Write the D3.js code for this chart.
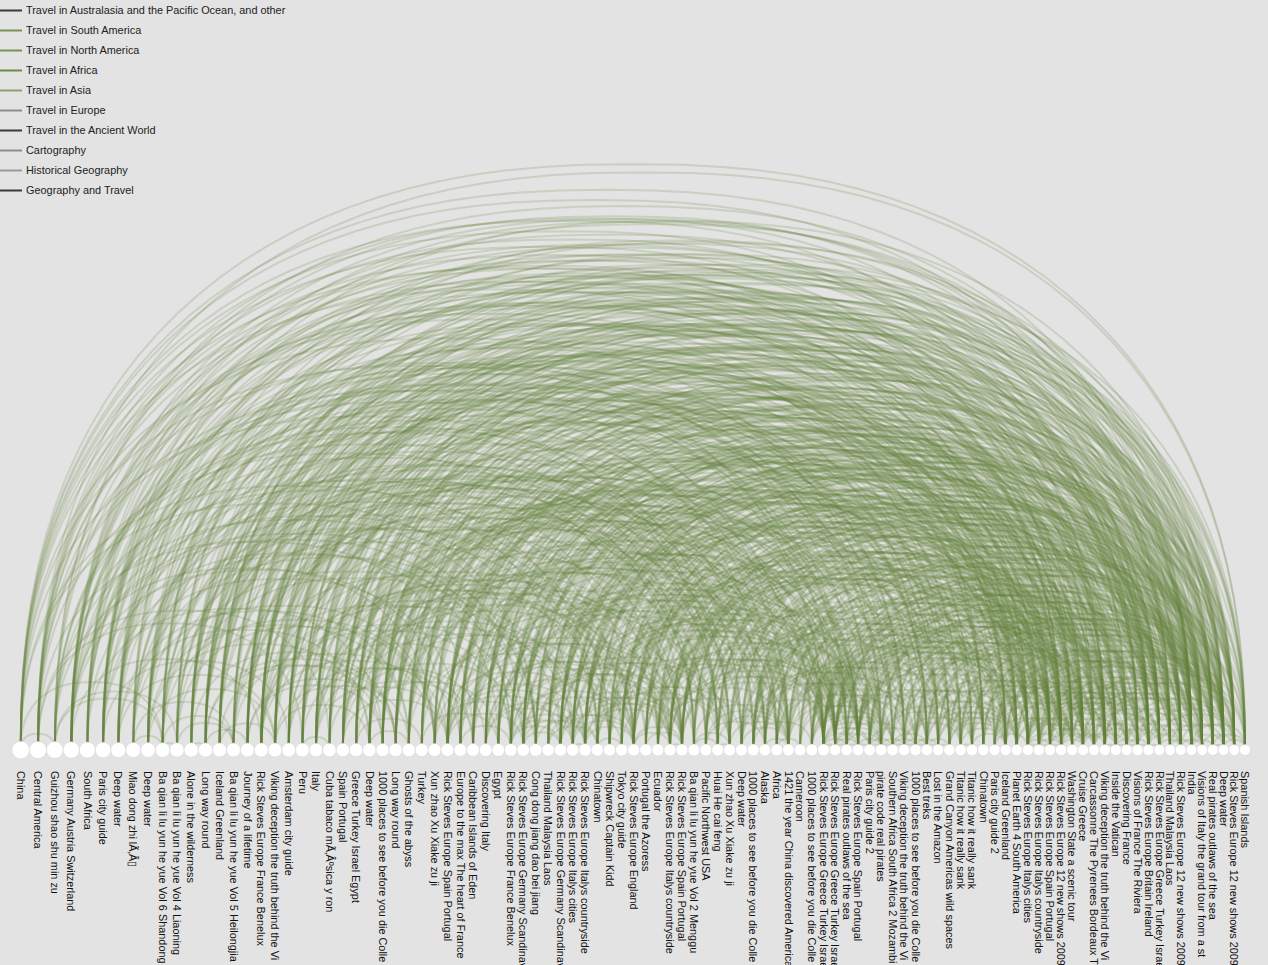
<!DOCTYPE html>
<html>
<head>
<meta charset="utf-8">
<script src="https://cdnjs.cloudflare.com/ajax/libs/d3/7.8.5/d3.min.js"></script>
<style>
  body { margin: 0; background: #e3e3e3; }
  svg { display: block; font-family: "Liberation Sans", Arial, sans-serif; }
</style>
</head>
<body>
<svg id="chart" width="1268" height="965"></svg>
<script>
var categories = [
  'Travel in Australasia and the Pacific Ocean, and other',
  'Travel in South America',
  'Travel in North America',
  'Travel in Africa',
  'Travel in Asia',
  'Travel in Europe',
  'Travel in the Ancient World',
  'Cartography',
  'Historical Geography',
  'Geography and Travel'
];
var categoryColors = ['#3a3a3a', '#7b9150', '#7b9150', '#6f8a45', '#8aa068', '#8c8c8c', '#3a3a3a', '#8c8c8c', '#9a9a9a', '#3a3a3a'];

var titles = [
  'China', 'Central America', 'Guizhou shao shu min zu', 'Germany Austria Switzerland', 'South Africa',
  'Paris city guide', 'Deep water', 'Miao dong zhi lÃ‚Â\u25AF', 'Deep water', 'Ba qian li lu yun he yue Vol 6 Shandong',
  'Ba qian li lu yun he yue Vol 4 Liaoning', 'Alone in the wilderness', 'Long way round', 'Iceland Greenland', 'Ba qian li lu yun he yue Vol 5 Heilongjia',
  'Journey of a lifetime', 'Rick Steves Europe France Benelux', 'Viking deception the truth behind the Vi', 'Amsterdam city guide', 'Peru',
  'Italy', 'Cuba tabaco mÃ‚Âºsica y ron', 'Spain Portugal', 'Greece Turkey Israel Egypt', 'Deep water',
  '1000 places to see before you die Colle', 'Long way round', 'Ghosts of the abyss', 'Turkey', 'Xun zhao Xu Xiake zu ji',
  'Rick Steves Europe Spain Portugal', 'Europe to the max The heart of France', 'Caribbean Islands of Eden', 'Discovering Italy', 'Egypt',
  'Rick Steves Europe France Benelux', 'Rick Steves Europe Germany Scandinavia', 'Cong dong jiang dao bei jiang', 'Thailand Malaysia Laos', 'Rick Steves Europe Germany Scandinavia',
  'Rick Steves Europe Italys cities', 'Rick Steves Europe Italys countryside', 'Chinatown', 'Shipwreck Captain Kidd', 'Tokyo city guide',
  'Rick Steves Europe England', 'Portugal the Azoress', 'Ecuador', 'Rick Steves Europe Italys countryside', 'Rick Steves Europe Spain Portugal',
  'Ba qian li lu yun he yue Vol 2 Menggu', 'Pacific Northwest USA', 'Huai He cai feng', 'Xun zhao Xu Xiake zu ji', 'Deep water',
  '1000 places to see before you die Colle', 'Alaska', 'Africa', '1421 the year China discovered America', 'Cameroon',
  '1000 places to see before you die Colle', 'Rick Steves Europe Greece Turkey Israel', 'Rick Steves Europe Greece Turkey Israel', 'Real pirates outlaws of the sea', 'Rick Steves Europe Spain Portugal',
  'Paris city guide 2', 'pirate code real pirates', 'Southern Africa South Africa 2 Mozambi', 'Viking deception the truth behind the Vi', '1000 places to see before you die Colle',
  'Best treks', 'Lost in the Amazon', 'Grand Canyon Americas wild spaces', 'Titanic how it really sank', 'Titanic how it really sank',
  'Chinatown', 'Paris city guide 2', 'Iceland Greenland', 'Planet Earth 4 South America', 'Rick Steves Europe Italys cities',
  'Rick Steves Europe Italys countryside', 'Rick Steves Europe Spain Portugal', 'Rick Steves Europe 12 new shows 2009', 'Washington State a scenic tour', 'Cruise Greece',
  'Carcassonne The Pyrenees Bordeaux Th', 'Viking deception the truth behind the Vi', 'Inside the Vatican', 'Discovering France', 'Visions of France The Riviera',
  'Rick Steves Europe Britain Ireland', 'Rick Steves Europe Greece Turkey Israel', 'Thailand Malaysia Laos', 'Rick Steves Europe 12 new shows 2009', 'India',
  'Visions of Italy the grand tour from a st', 'Real pirates outlaws of the sea', 'Deep water', 'Rick Steves Europe 12 new shows 2009', 'Spanish Islands'
];

// node weight (sets the circle size)
var nodeWeight = [
  88, 86, 84, 82, 80, 78, 76, 75, 74, 73,
  72, 72, 71, 71, 70, 70, 70, 69, 69, 69,
  68, 68, 67, 67, 67, 66, 66, 66, 65, 65,
  65, 64, 64, 64, 63, 63, 63, 63, 62, 62,
  62, 62, 62, 61, 61, 61, 61, 61, 61, 60,
  60, 60, 60, 60, 60, 59, 59, 59, 59, 59,
  59, 59, 58, 58, 58, 58, 58, 58, 58, 57,
  57, 57, 57, 57, 57, 57, 56, 56, 56, 56,
  56, 56, 56, 55, 55, 55, 55, 55, 55, 55,
  55, 54, 54, 54, 54, 54, 54, 54, 54, 54
];

// for each title, the later titles it is linked to
var linkTargets = [
  [2, 9, 37, 40, 52, 61, 66, 75, 79, 83, 86, 88, 92, 94, 99],
  [19, 21, 32, 47, 56, 58, 63, 71, 72, 78, 81, 83, 86, 90, 99],
  [9, 10, 29, 37, 42, 50, 52, 53, 75, 82, 92, 94],
  [16, 30, 35, 36, 39, 45, 49, 61, 62, 64, 65, 77, 79, 81, 82, 85, 88, 90, 93],
  [25, 34, 55, 57, 59, 67, 70, 78, 82, 84, 89, 94],
  [18, 31, 35, 44, 48, 62, 65, 68, 76, 79, 80, 82, 85, 88, 89, 95],
  [17, 24, 27, 43, 54, 58, 63, 66, 68, 73, 74, 77, 84, 86, 97],
  [9, 14, 29, 37, 42, 50, 52, 53, 75, 83, 92, 94],
  [17, 24, 27, 43, 54, 58, 63, 66, 68, 73, 74, 80, 86, 87, 96],
  [10, 14, 29, 37, 42, 50, 52, 53, 75, 81, 89, 92, 94, 97],
  [14, 29, 37, 50, 52, 53, 75, 86, 92, 94, 96],
  [12, 26, 47, 51, 56, 70, 71, 72, 77, 78, 83, 84, 86, 90, 94],
  [15, 25, 26, 55, 57, 60, 67, 69, 70, 71, 77, 78, 83, 84, 89, 90, 94],
  [17, 26, 51, 56, 68, 70, 72, 77, 81, 83, 86, 90, 93, 96, 97, 98],
  [29, 37, 42, 50, 52, 53, 75, 82, 91, 92, 94, 97],
  [25, 26, 55, 57, 60, 67, 69, 70, 78, 80, 84, 87, 89, 91, 94, 95, 97, 99],
  [30, 35, 36, 39, 40, 45, 49, 61, 62, 64, 79, 80, 81, 82, 85, 88, 89, 90, 91, 93, 98],
  [24, 27, 43, 54, 58, 63, 68, 73, 74, 77, 82, 86, 87, 90, 96, 97],
  [31, 35, 44, 45, 64, 65, 76, 79, 82, 85, 88, 89, 91, 93, 95, 98],
  [21, 32, 47, 51, 56, 58, 71, 72, 78, 81, 83, 94, 96, 97, 99],
  [30, 33, 40, 41, 45, 48, 49, 61, 64, 79, 80, 82, 85, 87, 91, 93, 95, 98],
  [32, 47, 56, 58, 63, 71, 78, 83, 90, 92, 96, 99],
  [30, 36, 41, 45, 46, 49, 61, 62, 64, 81, 82, 84, 90, 91, 93, 96, 98, 99],
  [28, 34, 49, 61, 62, 64, 79, 81, 84, 87, 90, 91, 94, 95, 98],
  [27, 43, 54, 58, 63, 66, 68, 73, 74, 80, 83, 86, 92, 96, 97, 99],
  [55, 57, 60, 67, 69, 70, 78, 80, 82, 84, 87, 89, 91, 94, 95, 97],
  [51, 56, 57, 67, 70, 71, 72, 77, 78, 83, 86, 90, 94, 97],
  [43, 54, 58, 63, 66, 68, 73, 74, 77, 86, 88, 92, 96, 97],
  [34, 46, 61, 62, 64, 79, 81, 84, 87, 91, 93, 95, 98],
  [37, 42, 50, 52, 53, 75, 81, 86, 92, 94, 96],
  [36, 39, 40, 41, 45, 48, 49, 61, 62, 64, 79, 80, 81, 82, 84, 85, 87, 90, 91, 93, 95, 98],
  [35, 45, 49, 64, 65, 76, 79, 82, 85, 88, 89, 90, 93, 95, 98],
  [47, 56, 58, 63, 66, 71, 72, 78, 83, 86, 94, 96, 99],
  [40, 41, 45, 48, 49, 62, 79, 80, 82, 84, 87, 90, 91, 93, 95, 98],
  [57, 58, 61, 62, 78, 84, 86, 87, 91, 94, 95, 97],
  [39, 40, 41, 45, 48, 49, 61, 62, 64, 79, 80, 81, 82, 85, 88, 90, 91, 93, 98],
  [39, 41, 45, 48, 49, 61, 62, 64, 79, 80, 81, 82, 85, 88, 90, 91, 93, 98],
  [42, 50, 52, 53, 75, 81, 86, 92, 94, 96, 97],
  [42, 44, 53, 65, 70, 75, 78, 82, 84, 89, 92, 94, 95, 97],
  [45, 48, 49, 61, 62, 64, 79, 80, 81, 82, 84, 85, 88, 90, 91, 93, 95, 98],
  [41, 45, 48, 49, 61, 62, 64, 79, 80, 81, 82, 87, 90, 91, 93, 95, 98],
  [45, 48, 49, 61, 62, 64, 79, 80, 81, 82, 85, 87, 88, 90, 91, 93, 95, 98],
  [44, 52, 53, 58, 66, 75, 77, 83, 86, 92, 94, 96, 97],
  [54, 58, 63, 66, 68, 73, 74, 77, 86, 92, 96, 97, 99],
  [53, 65, 75, 76, 83, 85, 88, 89, 92, 94, 95, 97],
  [48, 49, 61, 62, 64, 79, 80, 81, 82, 84, 85, 88, 90, 91, 93, 95, 98],
  [49, 61, 62, 64, 79, 81, 82, 84, 90, 91, 93, 98, 99],
  [56, 58, 63, 66, 71, 72, 77, 78, 83, 86, 94, 96, 99],
  [49, 61, 62, 64, 79, 80, 81, 82, 84, 87, 90, 91, 93, 95, 98],
  [61, 62, 64, 79, 80, 81, 82, 84, 85, 88, 90, 91, 93, 95, 98],
  [52, 53, 58, 75, 81, 86, 92, 94, 96, 97],
  [56, 58, 71, 72, 77, 78, 83, 84, 86, 94, 96, 97],
  [53, 58, 75, 81, 86, 92, 94, 96, 97],
  [58, 75, 77, 83, 86, 92, 94, 96],
  [58, 63, 66, 68, 73, 74, 77, 86, 92, 96, 97, 99],
  [60, 67, 69, 70, 78, 80, 82, 84, 87, 89, 91, 94, 95, 97],
  [58, 71, 72, 77, 78, 83, 84, 86, 90, 94, 97],
  [59, 67, 69, 70, 78, 84, 89, 94, 95, 97],
  [66, 68, 73, 74, 77, 83, 86, 92, 94, 96, 97],
  [67, 70, 78, 84, 89, 94, 95, 97],
  [66, 67, 69, 70, 78, 80, 82, 84, 87, 89, 91, 95, 97],
  [62, 63, 64, 65, 66, 67, 79, 80, 81, 82, 84, 85, 87, 88, 90, 91, 93, 95, 98],
  [63, 64, 65, 66, 79, 80, 81, 82, 84, 85, 87, 88, 90, 91, 93, 95, 98],
  [64, 66, 68, 73, 74, 77, 86, 92, 96, 97, 99],
  [65, 66, 79, 80, 81, 82, 84, 85, 87, 88, 90, 91, 93, 95, 98],
  [66, 67, 69, 76, 79, 82, 85, 88, 89, 90, 93, 95, 98],
  [67, 68, 73, 74, 77, 86, 92, 96, 97, 99],
  [68, 69, 70, 78, 84, 89, 94, 95, 97],
  [69, 70, 73, 74, 77, 86, 87, 92, 96, 97],
  [70, 71, 78, 80, 82, 84, 87, 89, 91, 94, 95, 97],
  [71, 72, 77, 78, 83, 84, 89, 94, 95, 97],
  [72, 77, 78, 83, 84, 94, 96, 97],
  [77, 78, 83, 84, 94, 96, 97],
  [74, 77, 83, 86, 92, 96, 97, 99],
  [77, 83, 86, 92, 96, 97, 99],
  [83, 86, 92, 94, 96, 97],
  [79, 82, 85, 88, 89, 90, 93, 95, 98],
  [83, 86, 90, 94, 96, 97],
  [83, 84, 89, 94, 95, 97],
  [80, 81, 82, 84, 85, 87, 88, 89, 90, 91, 93, 95, 98],
  [81, 82, 84, 85, 87, 88, 89, 90, 91, 93, 95, 98],
  [82, 84, 85, 88, 90, 91, 93, 95, 98, 99],
  [84, 85, 87, 88, 90, 91, 93, 95, 98],
  [86, 94, 96, 97],
  [87, 89, 91, 94, 95, 99],
  [88, 89, 90, 93, 95, 98],
  [87, 92, 96, 97, 99],
  [88, 89, 91, 95],
  [89, 90, 93, 95, 98],
  [90, 93, 95, 98],
  [91, 93, 95, 98],
  [93, 95, 98],
  [94, 97],
  [95, 98],
  [96, 97, 99],
  [98],
  [97, 99],
  [99],
  [],
  []
];

var svg = d3.select('#chart');
var baseY = 750;

// legend
var legend = svg.append('g').attr('class', 'legend')
  .selectAll('g')
  .data(categories)
  .enter()
  .append('g')
  .attr('transform', function(d, i) { return 'translate(0,' + (10.5 + i * 20) + ')'; });
legend.append('line')
  .attr('x1', 0).attr('x2', 22)
  .attr('stroke', function(d, i) { return categoryColors[i]; })
  .attr('stroke-width', 2);
legend.append('text')
  .attr('x', 26)
  .attr('dy', '0.35em')
  .attr('font-size', '10.9px')
  .attr('fill', '#222')
  .text(function(d) { return d; });

// node sizes and positions: circles sit side by side along the baseline
var radius = d3.scaleLinear().domain([0, 100]).range([0, 10]);
var nodes = titles.map(function(t, i) { return { name: t, r: radius(nodeWeight[i]) }; });
var acc = 0;
nodes.forEach(function(n, i) {
  if (i > 0) acc += nodes[i - 1].r + n.r;
  n.pos = acc;
});
var x = d3.scaleLinear().domain([0, acc]).range([20.7, 1245]);

var links = [];
linkTargets.forEach(function(targets, i) {
  targets.forEach(function(j) { links.push({ source: i, target: j }); });
});

// arcs: flattened half superellipse over the two nodes
var line = d3.line();
var expo = 2 / 2.35;
function arcPath(x1, x2) {
  var cx = (x1 + x2) / 2, rx = Math.abs(x2 - x1) / 2, ry = rx * 0.957;
  var pts = d3.range(0, 61).map(function(k) {
    var t = Math.PI * (1 - k / 60);
    var c = Math.cos(t), s = Math.sin(t);
    return [cx + rx * Math.sign(c) * Math.pow(Math.abs(c), expo),
            baseY - ry * Math.pow(Math.abs(s), expo)];
  });
  return line(pts);
}

svg.append('g').attr('class', 'links')
  .selectAll('path')
  .data(links)
  .enter()
  .append('path')
  .attr('d', function(d) { return arcPath(x(nodes[d.source].pos), x(nodes[d.target].pos)); })
  .attr('fill', 'none')
  .attr('stroke', '#62813a')
  .attr('stroke-opacity', 0.2)
  .attr('stroke-width', 2);

svg.append('g').attr('class', 'nodes')
  .selectAll('circle')
  .data(nodes)
  .enter()
  .append('circle')
  .attr('cx', function(d) { return x(d.pos); })
  .attr('cy', baseY)
  .attr('r', function(d) { return d.r; })
  .attr('fill', '#fff')
  .attr('stroke', '#d4d4d4')
  .attr('stroke-width', 0.5);

svg.append('g').attr('class', 'labels')
  .selectAll('text')
  .data(nodes)
  .enter()
  .append('text')
  .attr('transform', function(d) { return 'translate(' + x(d.pos) + ',771) rotate(90)'; })
  .attr('dy', '0.35em')
  .attr('font-size', '10.9px')
  .attr('fill', '#111')
  .text(function(d) { return d.name; });
</script>
</body>
</html>
